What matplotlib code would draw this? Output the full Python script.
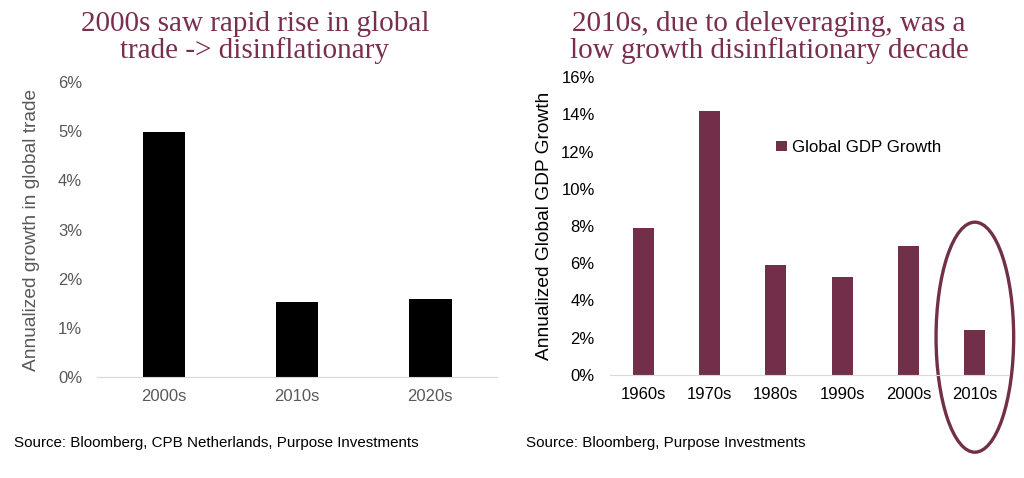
#!/usr/bin/env python
# plot.py - global trade growth vs global GDP growth by decade
import matplotlib
matplotlib.use("Agg")
from matplotlib import pyplot as plt
from matplotlib.patches import Ellipse
from matplotlib.ticker import FuncFormatter
import numpy as np

# left panel data
trade_decades = ["2000s", "2010s", "2020s"]
trade_growth = [4.98, 1.53, 1.59]

# right panel data
gdp_decades = ["1960s", "1970s", "1980s", "1990s", "2000s", "2010s"]
gdp_growth = [7.9, 14.2, 5.9, 5.25, 6.95, 2.4]

title_col = "#7a2e4f"
bar_col = "#722f49"
grey = "#595959"

plt.rcParams['font.family'] = ['Liberation Sans', 'DejaVu Sans']

fig = plt.figure(figsize=(10.24, 4.78), dpi=100)
pct = FuncFormatter(lambda v, p: "%d%%" % round(v))

# --- left: global trade
ax1 = fig.add_axes([0.0952, 0.2113, 0.390, 0.617])
x = np.arange(len(trade_decades))
ax1.bar(x, trade_growth, width=0.32, color="black")
ax1.set_xlim(-0.5, len(trade_decades) - 0.5)
ax1.set_ylim(0, 6)
ax1.set_yticks(range(0, 7))
ax1.yaxis.set_major_formatter(pct)
ax1.set_xticks(x)
ax1.set_xticklabels(trade_decades)
ax1.tick_params(colors=grey, labelsize=12, length=0)
ax1.tick_params(axis='x', pad=9)
ax1.tick_params(axis='y', pad=11)
ax1.set_ylabel("Annualized growth in global trade", color=grey, fontsize=13.8, labelpad=13)
for s in ["top", "right", "left"]:
    ax1.spines[s].set_visible(False)
ax1.spines["bottom"].set_color("#d9d9d9")

fig.text(0.249, 0.922, "2000s saw rapid rise in global\ntrade -> disinflationary",
         ha="center", va="center", fontsize=21, color=title_col,
         family="Liberation Serif", linespacing=1.0)
fig.text(0.014, 0.073, "Source: Bloomberg, CPB Netherlands, Purpose Investments",
         fontsize=10.9, color="black", va="center")

# --- right: global GDP
ax2 = fig.add_axes([0.5957, 0.2155, 0.3887, 0.6234])
x2 = np.arange(len(gdp_decades))
ax2.bar(x2, gdp_growth, width=0.32, color=bar_col, label="Global GDP Growth")
ax2.set_xlim(-0.5, len(gdp_decades) - 0.5)
ax2.set_ylim(0, 16)
ax2.set_yticks(range(0, 17, 2))
ax2.yaxis.set_major_formatter(pct)
ax2.set_xticks(x2)
ax2.set_xticklabels(gdp_decades)
ax2.tick_params(colors="black", labelsize=12, length=0)
ax2.tick_params(axis='x', pad=9)
ax2.tick_params(axis='y', pad=11)
ax2.set_ylabel("Annualized Global GDP Growth", color="black", fontsize=13.8, labelpad=6)
for s in ["top", "right", "left"]:
    ax2.spines[s].set_visible(False)
ax2.spines["bottom"].set_color("#d9d9d9")
ax2.legend(loc="upper left", bbox_to_anchor=(0.38, 0.84), frameon=False,
           fontsize=12.2, handlelength=0.6, handleheight=0.6, handletextpad=0.3)

# highlight the 2010s bar
ell = Ellipse((5, 2.03), 1.17, 12.35, transform=ax2.transData, fill=False,
              edgecolor=bar_col, linewidth=2.4, clip_on=False)
ax2.add_patch(ell)

fig.text(0.751, 0.922, "2010s, due to deleveraging, was a\nlow growth disinflationary decade",
         ha="center", va="center", fontsize=21, color=title_col,
         family="Liberation Serif", linespacing=1.0)
fig.text(0.514, 0.073, "Source: Bloomberg, Purpose Investments",
         fontsize=10.9, color="black", va="center")

plt.savefig("out.png", dpi=100)
